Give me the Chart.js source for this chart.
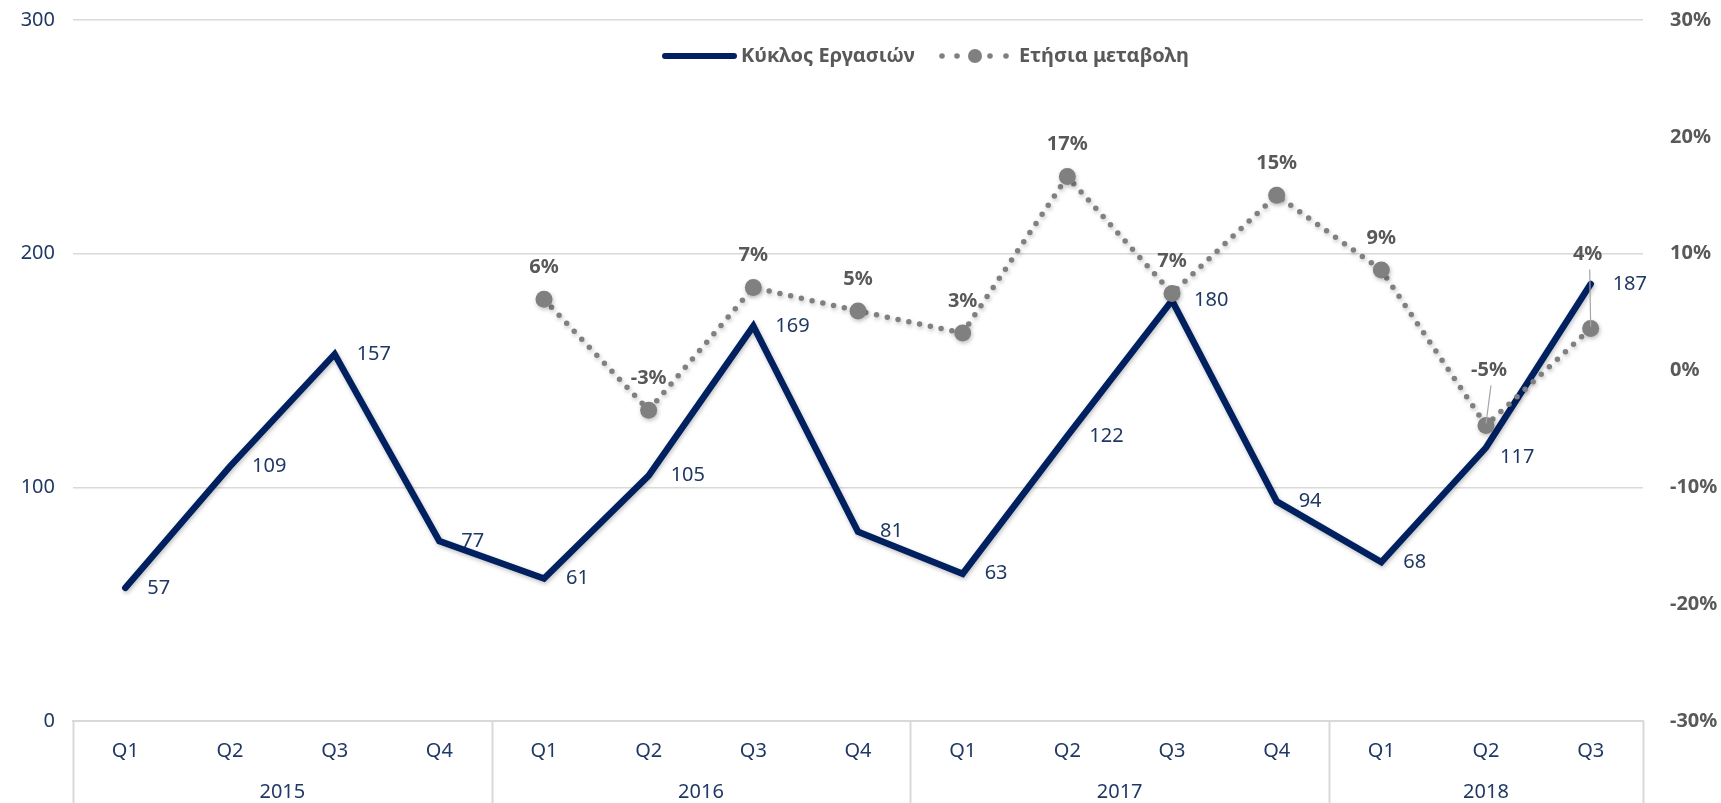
<!DOCTYPE html>
<html>
<head>
<meta charset="utf-8">
<script src="https://cdn.jsdelivr.net/npm/chart.js@4/dist/chart.umd.min.js"></script>
<style>
  html, body { margin: 0; padding: 0; background: #fff; }
  #wrap { width: 1721px; height: 803px; position: relative; }
</style>
</head>
<body>
<div id="wrap"><canvas id="chart"></canvas></div>
<script>
// data
const quarters = ['Q1', 'Q2', 'Q3', 'Q4', 'Q1', 'Q2', 'Q3', 'Q4', 'Q1', 'Q2', 'Q3', 'Q4', 'Q1', 'Q2', 'Q3'];
const years = ['2015', '2016', '2017', '2018'];
const quartersPerYear = [4, 4, 4, 3];
const turnover = [57, 109, 157, 77, 61, 105, 169, 81, 63, 122, 180, 94, 68, 117, 187];
const yearlyChange = [null, null, null, null, 6.1, -3.4, 7.1, 5.1, 3.2, 16.6, 6.6, 15.0, 8.6, -4.7, 3.6];
const seriesNames = ['Κύκλος Εργασιών', 'Ετήσια μεταβολη'];

const NAVY = '#002060';
const NAVY_TEXT = '#203864';
const GREY = '#808080';
const GREY_TEXT = '#595959';
const GRID = '#D9D9D9';

Chart.defaults.font.family = '"Noto Sans", sans-serif';
Chart.defaults.font.size = 20;

// soft shadow under both series, like the office chart
const shadowPlugin = {
    id: 'shadow',
    beforeDatasetDraw(chart) {
        const ctx = chart.ctx;
        ctx.save();
        ctx.shadowColor = 'rgba(0,0,0,0.25)';
        ctx.shadowBlur = 4;
        ctx.shadowOffsetX = 1;
        ctx.shadowOffsetY = 2;
    },
    afterDatasetDraw(chart) {
        chart.ctx.restore();
    }
};

const valueLabels = {
    id: 'valueLabels',
    afterDatasetsDraw(chart) {
        const ctx = chart.ctx;
        ctx.save();

        // turnover labels, right of each point
        ctx.font = '20px "Noto Sans"';
        ctx.fillStyle = NAVY_TEXT;
        ctx.textAlign = 'left';
        ctx.textBaseline = 'middle';
        chart.getDatasetMeta(0).data.forEach((pt, i) => {
            let dx = 22, dy = 0;
            if (i === 13) { dx = 14; dy = 10; }
            ctx.fillText(String(turnover[i]), pt.x + dx, pt.y + dy);
        });

        // yearly change labels, above the markers
        ctx.font = 'bold 20px "Noto Sans"';
        ctx.fillStyle = GREY_TEXT;
        ctx.textAlign = 'center';
        chart.getDatasetMeta(1).data.forEach((pt, i) => {
            const v = yearlyChange[i];
            if (v === null) return;
            let dx = 0, dy = -32, leader = false;
            if (i === 13) { dx = 3; dy = -55; leader = true; }
            if (i === 14) { dx = -3; dy = -74; leader = true; }
            if (leader) {
                ctx.strokeStyle = '#A6A6A6';
                ctx.lineWidth = 1.2;
                ctx.beginPath();
                ctx.moveTo(pt.x + dx + 2, pt.y + dy + 15);
                ctx.lineTo(pt.x, pt.y - 2);
                ctx.stroke();
            }
            ctx.fillText(Math.round(v) + '%', pt.x + dx, pt.y + dy);
        });
        ctx.restore();
    }
};

// second row of the category axis (years) with the box lines
const yearAxis = {
    id: 'yearAxis',
    afterDraw(chart) {
        const ctx = chart.ctx;
        const x = chart.scales.x;
        const area = chart.chartArea;
        const step = (area.right - area.left) / quarters.length;
        ctx.save();
        ctx.strokeStyle = GRID;
        ctx.lineWidth = 2;
        let start = 0;
        const edges = [area.left];
        years.forEach((yr, k) => {
            const end = start + quartersPerYear[k];
            const left = x.getPixelForValue(start) - step / 2;
            const right = x.getPixelForValue(end - 1) + step / 2;
            edges.push(right);
            ctx.fillStyle = NAVY_TEXT;
            ctx.font = '20px "Noto Sans"';
            ctx.textAlign = 'center';
            ctx.textBaseline = 'middle';
            ctx.fillText(yr, (left + right) / 2, 792);
            start = end;
        });
        edges.forEach(ex => {
            ctx.beginPath();
            ctx.moveTo(Math.round(ex) + 0.5, area.bottom);
            ctx.lineTo(Math.round(ex) + 0.5, chart.height);
            ctx.stroke();
        });
        ctx.restore();
    }
};

// legend inside the plot, top centre
const legendPlugin = {
    id: 'insideLegend',
    afterDraw(chart) {
        const ctx = chart.ctx;
        const y = 56;
        ctx.save();
        ctx.strokeStyle = NAVY;
        ctx.lineWidth = 6;
        ctx.lineCap = 'round';
        ctx.beginPath();
        ctx.moveTo(665, y);
        ctx.lineTo(734, y);
        ctx.stroke();

        ctx.fillStyle = GREY_TEXT;
        ctx.font = 'bold 20px "Noto Sans"';
        ctx.textAlign = 'left';
        ctx.textBaseline = 'middle';
        ctx.fillText(seriesNames[0], 741, y);

        ctx.fillStyle = GREY;
        [942, 957, 990, 1006].forEach(dx => {
            ctx.beginPath();
            ctx.arc(dx, y, 2.8, 0, Math.PI * 2);
            ctx.fill();
        });
        ctx.beginPath();
        ctx.arc(975, y, 7, 0, Math.PI * 2);
        ctx.fill();

        ctx.fillStyle = GREY_TEXT;
        ctx.fillText(seriesNames[1], 1019, y);
        ctx.restore();
    }
};

const ctx = document.getElementById('chart').getContext('2d');
new Chart(ctx, {
    type: 'line',
    data: {
        labels: quarters,
        datasets: [{
            label: seriesNames[0],
            data: turnover,
            yAxisID: 'y',
            borderColor: NAVY,
            borderWidth: 6.5,
            borderCapStyle: 'round',
            borderJoinStyle: 'miter',
            pointRadius: 0,
            tension: 0,
            order: 1
        }, {
            label: seriesNames[1],
            data: yearlyChange,
            yAxisID: 'y1',
            borderColor: GREY,
            borderWidth: 5.5,
            borderCapStyle: 'round',
            borderDash: [0, 11],
            pointRadius: 8.5,
            pointBackgroundColor: GREY,
            pointBorderWidth: 0,
            tension: 0,
            order: 0
        }]
    },
    options: {
        responsive: true,
        maintainAspectRatio: false,
        animation: false,
        layout: { padding: { top: 20, left: 0, right: 0, bottom: 0 } },
        plugins: {
            legend: { display: false },
            tooltip: { enabled: false }
        },
        scales: {
            x: {
                offset: true,
                grid: { display: false },
                border: { display: true, color: GRID, width: 2 },
                ticks: { color: NAVY_TEXT, padding: 10, autoSkip: false, maxRotation: 0 },
                afterFit(scale) { scale.height = 82; }
            },
            y: {
                position: 'left',
                min: 0,
                max: 300,
                // the gap to the plot comes from an invisible tick mark, so the
                // label padding does not push the plot area down
                ticks: { stepSize: 100, color: NAVY_TEXT, padding: 0 },
                grid: { color: GRID, lineWidth: 1.5, drawTicks: true, tickLength: 18, tickColor: 'rgba(0,0,0,0)' },
                border: { display: false },
                afterFit(scale) { scale.width = 73; }
            },
            y1: {
                position: 'right',
                min: -30,
                max: 30,
                ticks: {
                    stepSize: 10,
                    color: GREY_TEXT,
                    padding: 0,
                    font: { weight: 'bold' },
                    callback: v => v + '%'
                },
                grid: { drawOnChartArea: false, drawTicks: true, tickLength: 27, tickColor: 'rgba(0,0,0,0)' },
                border: { display: false },
                afterFit(scale) { scale.width = 78; }
            }
        }
    },
    plugins: [shadowPlugin, valueLabels, yearAxis, legendPlugin]
});
</script>
</body>
</html>
